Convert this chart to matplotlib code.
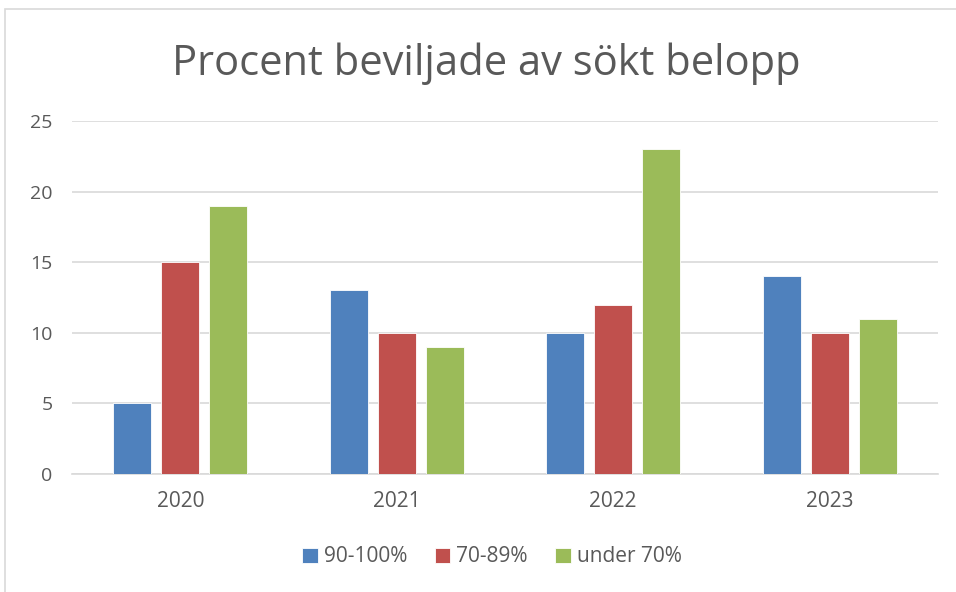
import matplotlib.pyplot as plt
import numpy as np
from matplotlib.patches import Rectangle

years = ['2020', '2021', '2022', '2023']
series = ['90-100%', '70-89%', 'under 70%']
v_90_100 = [5, 13, 10, 14]
v_70_89 = [15, 10, 12, 10]
v_under70 = [19, 9, 23, 11]
colors = ['#4F81BD', '#C0504D', '#9BBB59']

plt.rcParams['font.family'] = ['Open Sans', 'DejaVu Sans']
text_col = '#595959'

fig = plt.figure(figsize=(9.56, 5.92), dpi=100)
fig.patches.append(Rectangle((5 / 956, -0.1), 1.2, 1 - 9 / 592 + 0.1,
                             transform=fig.transFigure, fill=False,
                             edgecolor='#D9D9D9', linewidth=1.2))

ax = fig.add_axes([72 / 956, 1 - 474 / 592, 866 / 956, 353 / 592])
x = np.arange(len(years))
w = 0.175
step = 0.221
for i, (vals, c, lab) in enumerate(zip([v_90_100, v_70_89, v_under70], colors, series)):
    ax.bar(x + (i - 1) * step, vals, w, color=c, label=lab,
           edgecolor='#ffffff', linewidth=0.6, zorder=3)

ax.set_xlim(-0.5, 3.5)
ax.set_ylim(0, 25)
ax.set_yticks(range(0, 26, 5))
ax.set_xticks(x)
ax.set_xticklabels(years)
ax.grid(axis='y', color='#D9D9D9', linewidth=1.2, zorder=0)
for s in ['top', 'right', 'left']:
    ax.spines[s].set_visible(False)
ax.spines['bottom'].set_color('#D9D9D9')
ax.spines['bottom'].set_linewidth(1.2)
ax.tick_params(axis='y', length=0, labelsize=14, colors=text_col, pad=14)
ax.tick_params(axis='x', length=0, labelsize=15, colors=text_col, pad=12)

fig.text(486 / 956, 1 - 64 / 592, 'Procent beviljade av sökt belopp',
         ha='center', va='center', fontsize=30, color=text_col)

leg = fig.legend(loc='center', bbox_to_anchor=(492 / 956, 1 - 557 / 592),
                 ncol=3, frameon=False, fontsize=15, handlelength=0.75,
                 handleheight=0.75, handletextpad=0.3, columnspacing=1.3)
for t in leg.get_texts():
    t.set_color(text_col)

fig.savefig('out.png', dpi=100)
